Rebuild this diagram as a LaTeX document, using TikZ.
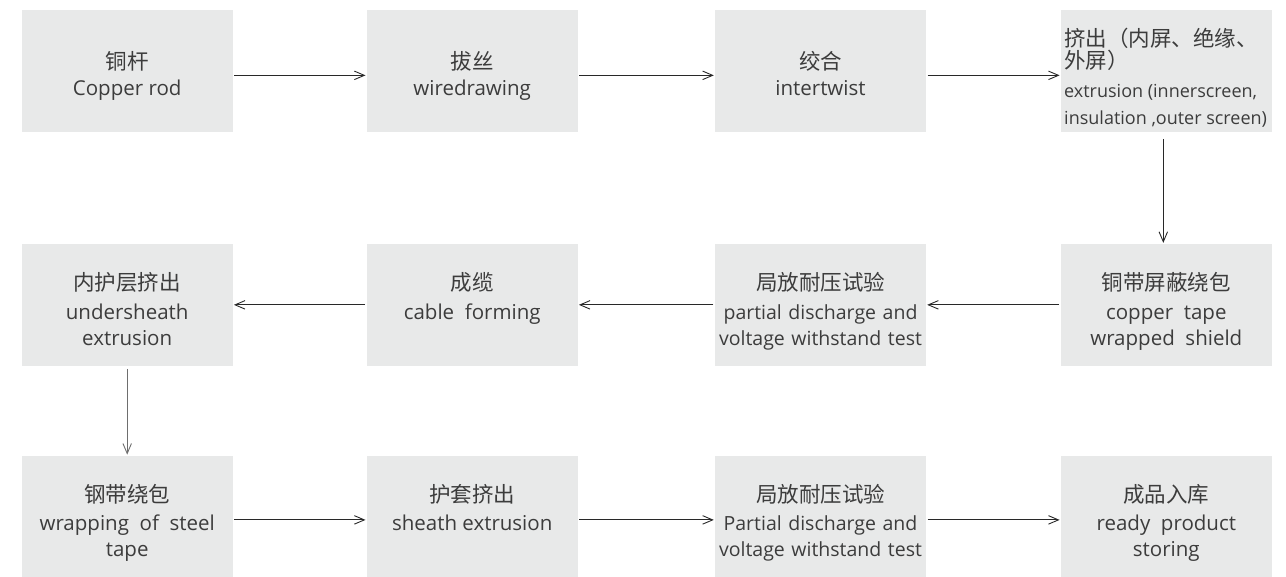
\documentclass[tikz,border=0pt]{standalone}
\usepackage{fontspec}
\setmainfont{Open Sans}
\newfontfamily\cjk{Noto Sans CJK SC}
\usetikzlibrary{arrows.meta}
\definecolor{boxgray}{RGB}{232,233,233}
\definecolor{textgray}{RGB}{60,60,60}
\definecolor{arrowdark}{RGB}{40,40,40}
\definecolor{arrowgray}{RGB}{110,110,110}
\newcommand{\zh}[1]{{\cjk\fontsize{21.5}{26}\selectfont #1}}
\newcommand{\wsp}{\ \hspace{1.5pt}}
\tikzset{
  procbox/.style={rectangle, fill=boxgray, minimum width=211pt, minimum height=121.5pt, inner sep=0pt},
  boxtext/.style={anchor=north, inner sep=0pt, align=center, text=textgray,
    font=\fontsize{20.5}{26}\selectfont},
  testtext/.style={boxtext, font=\fontsize{19.5}{26}\selectfont},
  flowarrow/.style={draw=arrowdark, line width=0.9pt, -{Straight Barb[length=10pt,width=8.5pt]},
    shorten <=1.5pt, shorten >=1pt},
}
\begin{document}
\begin{tikzpicture}[x=1pt,y=-1pt]
\useasboundingbox (0,0) rectangle (1286,577);
% boxes
\node[procbox] (r1c1) at (127.2,70.85) {};
\node[procbox] (r1c2) at (472.2,70.85) {};
\node[procbox] (r1c3) at (820.5,70.85) {};
\node[procbox] (r1c4) at (1166.3,70.85) {};
\node[procbox] (r2c4) at (1166.3,304.85) {};
\node[procbox] (r2c3) at (820.5,304.85) {};
\node[procbox] (r2c2) at (472.2,304.85) {};
\node[procbox] (r2c1) at (127.2,304.85) {};
\node[procbox] (r3c1) at (127.2,516.6) {};
\node[procbox] (r3c2) at (472.2,516.6) {};
\node[procbox] (r3c3) at (820.5,516.6) {};
\node[procbox] (r3c4) at (1166.3,516.6) {};
% texts row 1
\node[boxtext] (t1c1) at ([yshift=-41pt]r1c1.north) {\zh{铜杆}\\Copper rod};
\node[boxtext] (t1c2) at ([yshift=-41pt]r1c2.north) {\zh{拔丝}\\wiredrawing};
\node[boxtext] (t1c3) at ([yshift=-41pt]r1c3.north) {\zh{绞合}\\intertwist};
\node[boxtext, anchor=north west, align=left, font=\fontsize{18}{27}\selectfont] (t1c4)
  at (1064,28) {\zh{挤出（内屏、绝缘、}\\[-5pt]\zh{外屏）}\\[1.6pt]extrusion (innerscreen,\\insulation ,outer screen)};
% texts row 2
\node[boxtext] (t2c4) at ([yshift=-28.3pt]r2c4.north) {\zh{铜带屏蔽绕包}\\[2.6pt]copper\ \ tape\\wrapped\ \ shield};
\node[testtext] (t2c3) at ([yshift=-28.3pt]r2c3.north) {\zh{局放耐压试验}\\[2.6pt]partial\wsp discharge\wsp and\\voltage\wsp withstand\wsp test};
\node[boxtext] (t2c2) at ([yshift=-28.3pt]r2c2.north) {\zh{成缆}\\[2.6pt]cable\ \ forming};
\node[boxtext] (t2c1) at ([yshift=-28.3pt]r2c1.north) {\zh{内护层挤出}\\[2.6pt]undersheath\\extrusion};
% texts row 3
\node[boxtext] (t3c1) at ([yshift=-28.3pt]r3c1.north) {\zh{钢带绕包}\\[2.6pt]wrapping\ \ of\ \ steel\\tape};
\node[boxtext] (t3c2) at ([yshift=-28.3pt]r3c2.north) {\zh{护套挤出}\\[2.6pt]sheath extrusion};
\node[testtext] (t3c3) at ([yshift=-28.3pt]r3c3.north) {\zh{局放耐压试验}\\[2.6pt]Partial\wsp discharge\wsp and\\voltage\wsp withstand\wsp test};
\node[boxtext] (t3c4) at ([yshift=-28.3pt]r3c4.north) {\zh{成品入库}\\[2.6pt]ready\ \ product\\storing};
% arrows row 1
\draw[flowarrow] ([yshift=-4.5pt]r1c1.east) -- ([yshift=-4.5pt]r1c2.west);
\draw[flowarrow] ([yshift=-4.5pt]r1c2.east) -- ([yshift=-4.5pt]r1c3.west);
\draw[flowarrow] ([yshift=-4.5pt]r1c3.east) -- ([yshift=-4.5pt]r1c4.west);
% down right
\draw[flowarrow, shorten <=7pt] ([xshift=-3pt]r1c4.south) -- ([xshift=-3pt]r2c4.north);
% arrows row 2
\draw[flowarrow] (r2c4.west) -- (r2c3.east);
\draw[flowarrow] (r2c3.west) -- (r2c2.east);
\draw[flowarrow] (r2c2.west) -- (r2c1.east);
% down left
\draw[flowarrow, draw=arrowgray, shorten <=3pt] (r2c1.south) -- (r3c1.north);
% arrows row 3
\draw[flowarrow] ([yshift=-3.3pt]r3c1.east) -- ([yshift=-3.3pt]r3c2.west);
\draw[flowarrow] ([yshift=-3.3pt]r3c2.east) -- ([yshift=-3.3pt]r3c3.west);
\draw[flowarrow] ([yshift=-3.3pt]r3c3.east) -- ([yshift=-3.3pt]r3c4.west);
\end{tikzpicture}
\end{document}
